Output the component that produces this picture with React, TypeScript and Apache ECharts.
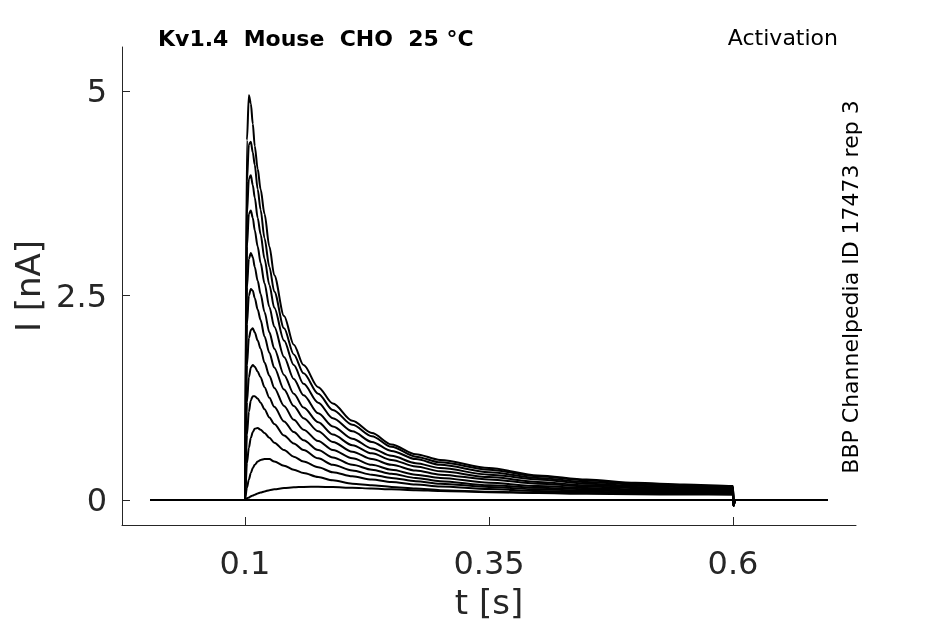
import React, { useEffect, useRef } from "react";
import * as echarts from "echarts";

// time grid of the pulse (s)
const T = [0.1, 0.102, 0.104, 0.106, 0.108, 0.11, 0.113, 0.116, 0.12, 0.125, 0.13, 0.14, 0.15, 0.16, 0.175, 0.19, 0.21, 0.23, 0.25, 0.275, 0.3, 0.35, 0.4, 0.45, 0.5, 0.55, 0.6];

// current traces (nA)
const TRACE_1 = [0, 4.4, 4.95, 4.85, 4.6, 4.33, 4.05, 3.8, 3.5, 3.1, 2.75, 2.25, 1.9, 1.65, 1.38, 1.18, 0.97, 0.82, 0.68, 0.56, 0.49, 0.39, 0.3, 0.25, 0.21, 0.19, 0.17];
const TRACE_2 = [0, 3.9, 4.35, 4.38, 4.25, 4.1, 3.8, 3.55, 3.2, 2.85, 2.55, 2.1, 1.78, 1.55, 1.3, 1.1, 0.92, 0.78, 0.65, 0.53, 0.46, 0.37, 0.29, 0.24, 0.2, 0.18, 0.16];
const TRACE_3 = [0, 3.5, 3.93, 3.97, 3.85, 3.7, 3.45, 3.25, 2.95, 2.63, 2.35, 1.95, 1.65, 1.42, 1.19, 1.0, 0.84, 0.71, 0.6, 0.5, 0.43, 0.34, 0.27, 0.22, 0.19, 0.17, 0.155];
const TRACE_4 = [0, 3.1, 3.5, 3.54, 3.45, 3.3, 3.1, 2.9, 2.65, 2.36, 2.12, 1.75, 1.48, 1.28, 1.06, 0.9, 0.75, 0.63, 0.54, 0.45, 0.39, 0.31, 0.25, 0.2, 0.175, 0.155, 0.145];
const TRACE_5 = [0, 2.6, 2.95, 3.02, 2.97, 2.85, 2.68, 2.52, 2.3, 2.05, 1.85, 1.53, 1.3, 1.13, 0.95, 0.8, 0.67, 0.57, 0.49, 0.41, 0.35, 0.28, 0.22, 0.18, 0.16, 0.14, 0.135];
const TRACE_6 = [0, 2.15, 2.5, 2.58, 2.56, 2.47, 2.33, 2.2, 2.0, 1.8, 1.62, 1.35, 1.15, 1.0, 0.84, 0.71, 0.59, 0.5, 0.43, 0.36, 0.31, 0.25, 0.2, 0.165, 0.145, 0.13, 0.125];
const TRACE_7 = [0, 1.65, 1.98, 2.08, 2.1, 2.05, 1.95, 1.85, 1.68, 1.52, 1.37, 1.15, 0.98, 0.86, 0.72, 0.61, 0.51, 0.43, 0.37, 0.31, 0.27, 0.21, 0.17, 0.145, 0.13, 0.12, 0.115];
const TRACE_8 = [0, 1.2, 1.5, 1.62, 1.65, 1.63, 1.57, 1.5, 1.38, 1.25, 1.14, 0.96, 0.83, 0.73, 0.61, 0.52, 0.43, 0.37, 0.32, 0.27, 0.23, 0.18, 0.15, 0.13, 0.115, 0.108, 0.105];
const TRACE_9 = [0, 0.8, 1.08, 1.22, 1.27, 1.27, 1.24, 1.19, 1.11, 1.01, 0.93, 0.79, 0.69, 0.61, 0.51, 0.43, 0.36, 0.31, 0.27, 0.23, 0.2, 0.16, 0.13, 0.115, 0.105, 0.097, 0.095];
const TRACE_10 = [0, 0.45, 0.64, 0.76, 0.83, 0.87, 0.88, 0.86, 0.82, 0.76, 0.7, 0.61, 0.53, 0.47, 0.4, 0.34, 0.29, 0.25, 0.22, 0.19, 0.165, 0.135, 0.11, 0.1, 0.09, 0.087, 0.085];
const TRACE_11 = [0, 0.15, 0.25, 0.33, 0.39, 0.43, 0.47, 0.49, 0.5, 0.5, 0.47, 0.42, 0.37, 0.33, 0.28, 0.24, 0.2, 0.18, 0.16, 0.14, 0.12, 0.1, 0.09, 0.085, 0.08, 0.077, 0.075];
const TRACE_12 = [0, 0.02, 0.03, 0.045, 0.055, 0.065, 0.08, 0.09, 0.105, 0.12, 0.13, 0.145, 0.155, 0.16, 0.162, 0.158, 0.15, 0.14, 0.13, 0.12, 0.11, 0.095, 0.085, 0.075, 0.07, 0.067, 0.065];
const TRACE_13 = [0, 0, 0, 0, 0, 0, 0, 0, 0, 0, 0, 0, 0, 0, 0, 0, 0, 0, 0, 0, 0, 0, 0, 0, 0, 0, 0];

const TRACES = [TRACE_1, TRACE_2, TRACE_3, TRACE_4, TRACE_5, TRACE_6, TRACE_7, TRACE_8, TRACE_9, TRACE_10, TRACE_11, TRACE_12, TRACE_13];

// holding segments before and after the pulse
const PRE_T = [0.003];
const PRE_V = [0];
const POST_T = [0.6005, 0.602, 0.697];
const POST_V = [-0.07, 0, 0];

const X_TICKS = [0.1, 0.35, 0.6];
const Y_TICKS = [0, 2.5, 5];

const TITLE = "Kv1.4  Mouse  CHO  25 °C";
const PROTOCOL = "Activation";
const SOURCE = "BBP Channelpedia ID 17473 rep 3";

const FONT = "DejaVu Sans";
const AXIS_COLOR = "#262626";

export default function App() {
  const ref = useRef<HTMLDivElement>(null);

  useEffect(() => {
    if (!ref.current) return;
    const chart = echarts.init(ref.current, null, { renderer: "svg" });

    const series = TRACES.map((vals, k) => {
      const data: number[][] = [];
      PRE_T.forEach((t, i) => data.push([t, PRE_V[i]]));
      T.forEach((t, i) => data.push([t, vals[i]]));
      POST_T.forEach((t, i) => data.push([t, POST_V[i]]));
      return {
        type: "line",
        name: "trace" + (k + 1),
        data,
        showSymbol: false,
        smooth: 0.3,
        smoothMonotone: "x",
        lineStyle: { color: "#000", width: 2 },
        silent: true,
      };
    });

    chart.setOption({
      animation: false,
      grid: { left: 122, right: 89, top: 47, bottom: 99 },
      xAxis: {
        type: "value",
        min: -0.026,
        max: 0.726,
        name: "t [s]",
        nameLocation: "middle",
        nameGap: 60,
        nameTextStyle: { fontFamily: FONT, fontSize: 34, color: AXIS_COLOR },
        axisLine: { show: true, onZero: false, lineStyle: { color: AXIS_COLOR, width: 1 } },
        axisTick: { show: true, inside: true, length: 8, customValues: X_TICKS, lineStyle: { color: AXIS_COLOR } },
        axisLabel: {
          customValues: X_TICKS,
          formatter: (v: number) => String(v),
          fontFamily: FONT,
          fontSize: 32,
          color: AXIS_COLOR,
          margin: 22,
        },
        splitLine: { show: false },
      },
      yAxis: {
        type: "value",
        min: -0.306,
        max: 5.54,
        name: "I [nA]",
        nameLocation: "middle",
        nameGap: 76,
        nameTextStyle: { fontFamily: FONT, fontSize: 34, color: AXIS_COLOR },
        axisLine: { show: true, onZero: false, lineStyle: { color: AXIS_COLOR, width: 1 } },
        axisTick: { show: true, inside: true, length: 8, customValues: Y_TICKS, lineStyle: { color: AXIS_COLOR } },
        axisLabel: {
          customValues: Y_TICKS,
          formatter: (v: number) => String(v),
          fontFamily: FONT,
          fontSize: 32,
          color: AXIS_COLOR,
          margin: 15,
        },
        splitLine: { show: false },
      },
      graphic: [
        {
          type: "text",
          left: 158,
          top: 27,
          style: { text: TITLE, fontFamily: FONT, fontSize: 22, fontWeight: "bold", fill: "#000" },
        },
        {
          type: "text",
          right: 107,
          top: 26,
          style: { text: PROTOCOL, fontFamily: FONT, fontSize: 22, fill: "#000" },
        },
        {
          type: "text",
          x: 850,
          y: 287,
          rotation: Math.PI / 2,
          style: {
            text: SOURCE,
            fontFamily: FONT,
            fontSize: 22,
            fill: "#000",
            align: "center",
            verticalAlign: "middle",
          },
        },
      ],
      series,
    });

    return () => chart.dispose();
  }, []);

  return <div ref={ref} style={{ position: "fixed", left: 0, top: 0, width: 945, height: 624 }} />;
}
